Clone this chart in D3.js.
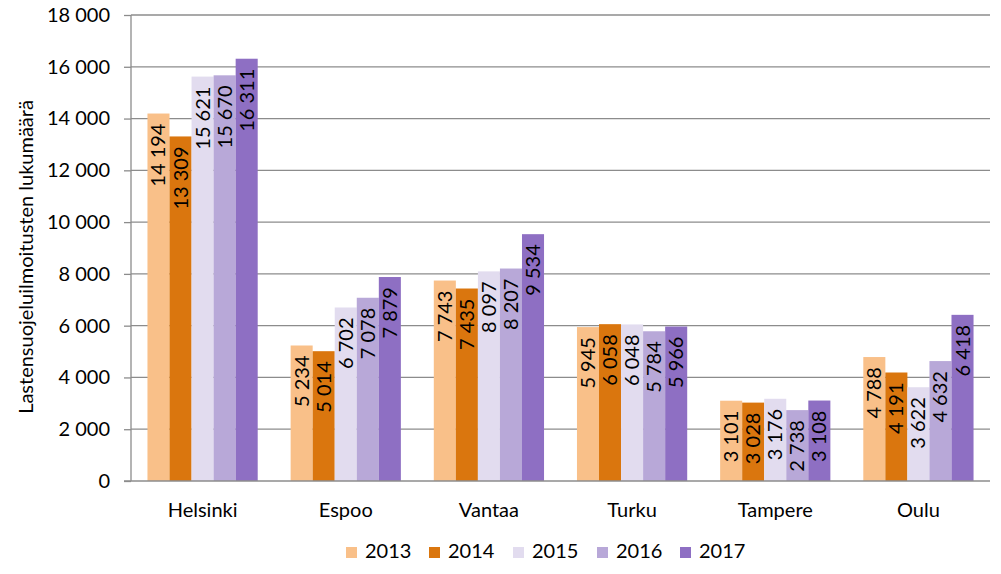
<!DOCTYPE html>
<html><head><meta charset="utf-8">
<script src="https://cdn.jsdelivr.net/npm/d3@7"></script>
<style>body{margin:0;background:#fff;} svg{display:block;font-family:Lato,"Open Sans",sans-serif;}</style>
</head><body>
<svg id="c" width="1001" height="574"></svg>
<script>
const categories = ["Helsinki","Espoo","Vantaa","Turku","Tampere","Oulu"];
const years = ["2013","2014","2015","2016","2017"];
const v2013 = [14194,5234,7743,5945,3101,4788];
const v2014 = [13309,5014,7435,6058,3028,4191];
const v2015 = [15621,6702,8097,6048,3176,3622];
const v2016 = [15670,7078,8207,5784,2738,4632];
const v2017 = [16311,7879,9534,5966,3108,6418];
const yTicks = [0,2000,4000,6000,8000,10000,12000,14000,16000,18000];
const colors = ["#F9C089","#DA760E","#E2DCEF","#B8A8D8","#8E6FC3"];
const series = [v2013,v2014,v2015,v2016,v2017];

const FS = 20;
const svg = d3.select("#c");
const L=131, R=990, T=15, B=481;
const x0 = d3.scaleBand().domain(categories).range([L,R]).paddingInner(0.23).paddingOuter(0.115);
const x1 = d3.scaleBand().domain(years).range([0,x0.bandwidth()]);
const y = d3.scaleLinear().domain([0,18000]).range([B,T]);
const fmtT = v => { const s = String(v); return s.length>3 ? s.slice(0,-3)+" "+s.slice(-3) : s; };

// gridlines
svg.append("g").selectAll("line").data(yTicks.filter(d=>d>0)).join("line")
  .attr("x1",L).attr("x2",R).attr("y1",d=>y(d)).attr("y2",d=>y(d))
  .attr("stroke","#8c8c8c").attr("stroke-width",1.3);

// bars
const g = svg.append("g").selectAll("g").data(categories).join("g")
  .attr("transform",d=>`translate(${x0(d)},0)`);
years.forEach((yr,si)=>{
  g.append("rect").attr("x",x1(yr)).attr("width",x1.bandwidth())
    .attr("y",(d,i)=>y(series[si][i])).attr("height",(d,i)=>B-y(series[si][i]))
    .attr("fill",colors[si]);
});
years.forEach((yr,si)=>{
  g.append("text")
    .attr("transform",(d,i)=>`translate(${x1(yr)+x1.bandwidth()/2+7},${y(series[si][i])+10}) rotate(-90)`)
    .attr("text-anchor","end").attr("font-size",FS).attr("fill","#000")
    .text((d,i)=>fmtT(series[si][i]));
});

// axes
const ya = d3.axisLeft(y).tickValues(yTicks).tickSize(7).tickPadding(14).tickFormat(fmtT);
const yg = svg.append("g").attr("transform",`translate(${L},0)`).call(ya);
yg.select(".domain").attr("stroke","#8c8c8c").attr("stroke-width",1.3).attr("d",`M0,${T}V${B}`);
yg.selectAll(".tick line").attr("stroke","#8c8c8c").attr("stroke-width",1.3);
yg.selectAll(".tick text").attr("font-size",FS).attr("fill","#000").attr("font-family","Lato,'Open Sans',sans-serif");

svg.append("line").attr("x1",L-7).attr("x2",R).attr("y1",B).attr("y2",B).attr("stroke","#8c8c8c").attr("stroke-width",1.3);

const xa = d3.axisBottom(x0).tickSize(0).tickPadding(22);
const xg = svg.append("g").attr("transform",`translate(0,${B})`).call(xa);
xg.select(".domain").remove();
xg.selectAll(".tick text").attr("font-size",FS).attr("fill","#000").attr("font-family","Lato,'Open Sans',sans-serif");

// y title
svg.append("text").attr("transform",`translate(33,257) rotate(-90)`)
  .attr("text-anchor","middle").attr("font-size",FS).attr("fill","#000")
  .text("Lastensuojeluilmoitusten lukumäärä");

// legend
const lx = [346,429,513,597,680];
const lg = svg.append("g").selectAll("g").data(years).join("g")
  .attr("transform",(d,i)=>`translate(${lx[i]},558)`);
lg.append("rect").attr("x",0).attr("y",-11).attr("width",11).attr("height",11).attr("fill",(d,i)=>colors[i]);
lg.append("text").attr("x",19).attr("y",0).attr("font-size",FS).attr("fill","#000").text(d=>d);
</script>
</body></html>
